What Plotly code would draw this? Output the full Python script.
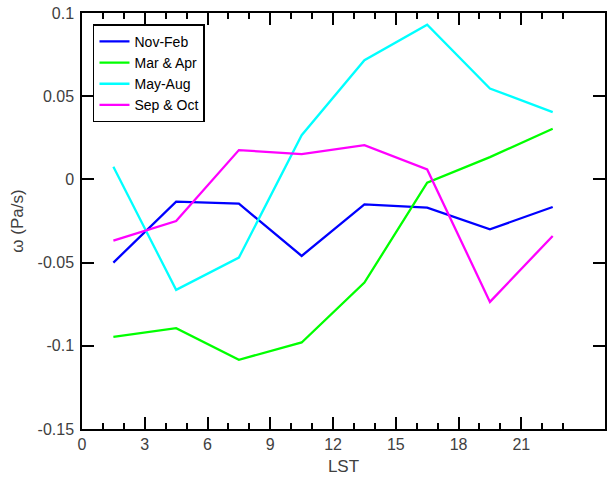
import plotly.graph_objects as go

# Local solar time (hours) at the centre of each 3-hour bin
lst = [1.5, 4.5, 7.5, 10.5, 13.5, 16.5, 19.5, 22.5]

# Mean vertical velocity omega (Pa/s) per season
nov_feb = [-0.050, -0.0134, -0.0146, -0.046, -0.015, -0.017, -0.030, -0.0166]
mar_apr = [-0.0946, -0.0894, -0.1084, -0.098, -0.062, -0.002, 0.0134, 0.0304]
may_aug = [0.0076, -0.0664, -0.047, 0.0266, 0.0716, 0.093, 0.0546, 0.0404]
sep_oct = [-0.0368, -0.025, 0.0176, 0.0152, 0.0206, 0.006, -0.0736, -0.034]

series_names = ["Nov-Feb", "Mar & Apr", "May-Aug", "Sep & Oct"]
series_values = [nov_feb, mar_apr, may_aug, sep_oct]
series_colors = ["#0000ff", "#00ff00", "#00ffff", "#ff00ff"]

x_ticks = [0, 3, 6, 9, 12, 15, 18, 21]
x_minor = [h for h in range(1, 24) if h % 3 != 0]
y_ticks = [-0.15, -0.1, -0.05, 0, 0.05, 0.1]
y_ticktext = ["-0.15", "-0.1", "-0.05", "0", "0.05", "0.1"]

fig = go.Figure()
for name, vals, col in zip(series_names, series_values, series_colors):
    fig.add_trace(go.Scatter(x=lst, y=vals, mode="lines", name=name,
                             line=dict(color=col, width=2.3)))

font_family = "Liberation Sans, Arial, Helvetica, sans-serif"
tick_color = "#404040"

fig.update_layout(
    width=610, height=478,
    margin=dict(l=82, r=3, t=13, b=49),
    paper_bgcolor="white", plot_bgcolor="white",
    font=dict(family=font_family, size=15, color=tick_color),
    showlegend=True,
    legend=dict(x=0.021, y=0.973, xanchor="left", yanchor="top",
                bgcolor="white", bordercolor="black", borderwidth=1.5,
                font=dict(size=14, color="black"),
                tracegroupgap=0, itemwidth=30),
)

fig.update_xaxes(
    range=[0, 25], tickmode="array", tickvals=x_ticks,
    ticks="inside", ticklen=12, tickwidth=1.5, tickcolor="black",
    minor=dict(tickmode="array", tickvals=x_minor, ticks="inside",
               ticklen=6, tickwidth=1.5, tickcolor="black", showgrid=False),
    showline=True, linecolor="black", linewidth=1.5, mirror="ticks",
    showgrid=False, zeroline=False,
    tickfont=dict(size=16, color=tick_color),
    title=dict(text="LST", font=dict(size=17, color=tick_color), standoff=8),
)

fig.update_yaxes(
    range=[-0.15, 0.1], tickmode="array", tickvals=y_ticks, ticktext=y_ticktext,
    ticks="inside", ticklen=12, tickwidth=1.5, tickcolor="black",
    showline=True, linecolor="black", linewidth=1.5, mirror="ticks",
    showgrid=False, zeroline=False, ticklabelstandoff=3,
    tickfont=dict(size=16, color=tick_color),
    title=dict(text="ω (Pa/s)", font=dict(size=17, color=tick_color), standoff=10),
)

fig.write_html("out.html")
